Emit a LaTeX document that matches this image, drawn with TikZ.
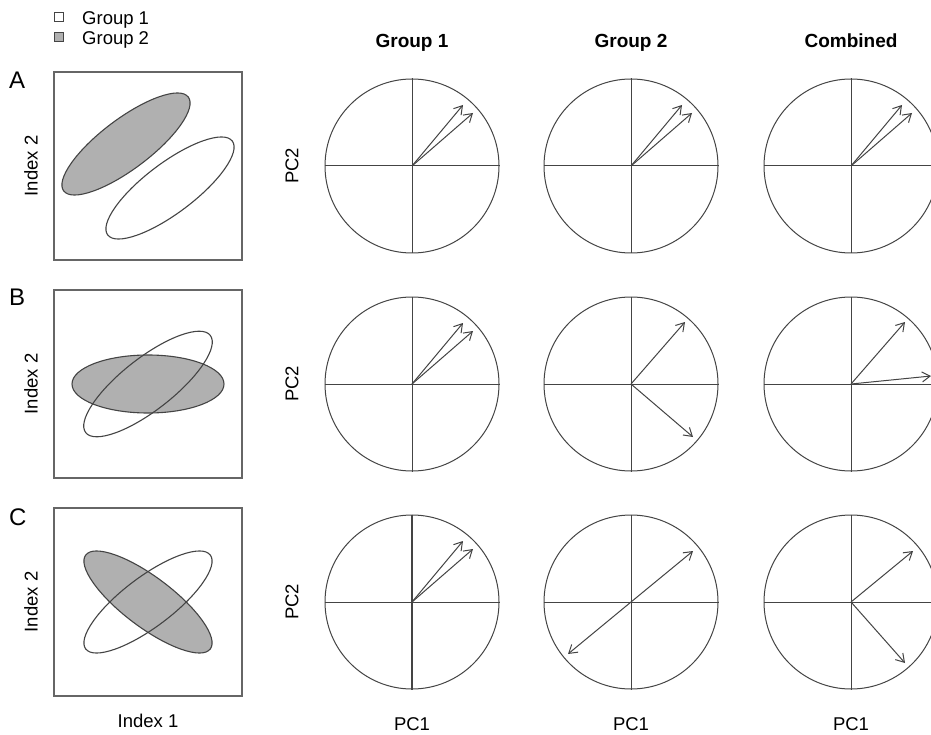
\documentclass[tikz,border=0pt]{standalone}
\usepackage{fontspec}
\setmainfont{Liberation Sans}
\usetikzlibrary{arrows.meta,calc}
\definecolor{lncol}{HTML}{444444}
\definecolor{boxcol}{HTML}{666666}
\definecolor{fillgray}{HTML}{B0B0B0}
\begin{document}
\begin{tikzpicture}[x=1pt,y=-1pt,
  ln/.style={draw=lncol, line width=1pt},
  pcircle/.style={circle, ln, minimum size=174pt, inner sep=0pt},
  arr/.style={draw=lncol, line width=1pt, -{Straight Barb[length=8pt,width=10pt]}},
  panel/.style={draw=boxcol, line width=1.1pt, minimum width=188pt, minimum height=188pt, inner sep=0pt},
  grayell/.style={draw=lncol, line width=1.1pt, fill=fillgray},
  whiteell/.style={draw=lncol, line width=1.1pt},
  lab/.style={font=\fontsize{18.5}{20}\selectfont, inner sep=0pt},
  head/.style={font=\bfseries\fontsize{19}{21}\selectfont, inner sep=0pt, anchor=base},
  letter/.style={font=\fontsize{24}{26}\selectfont, inner sep=0pt, anchor=base west},
  legbox/.style={draw=lncol, line width=1pt, minimum size=9pt, inner sep=0pt}]
\useasboundingbox (0,0) rectangle (931,735);
\clip (0,0) rectangle (931,735);
\fill[white] (0,0) rectangle (931,735);

% legend
\node[legbox, fill=white] (lg1) at (58.5,17.5) {};
\node[legbox, fill=fillgray] (lg2) at (58.5,37.5) {};
\node[lab, anchor=base west] (lt1) at (82,25) {Group 1};
\node[lab, anchor=base west] (lt2) at (82,44.5) {Group 2};

% column headers
\node[head] (h1) at (412,48) {Group 1};
\node[head] (h2) at (631,48) {Group 2};
\node[head] (h3) at (851,48) {Combined};

% row letters
\node[letter] (lA) at (9,89) {A};
\node[letter] (lB) at (9,305) {B};
\node[letter] (lC) at (9,525) {C};

% left panels
\node[panel] (pA) at (148,166) {};
\node[panel] (pB) at (148,384) {};
\node[panel] (pC) at (148,602) {};

% ellipses panel A
\draw[grayell, rotate around={37:(126,144)}] (126,144) ellipse [x radius=78pt, y radius=25pt];
\draw[whiteell, rotate around={37:(170,188)}] (170,188) ellipse [x radius=78pt, y radius=25pt];
% panel B
\draw[grayell] (148,384) ellipse [x radius=76pt, y radius=29pt];
\draw[whiteell, rotate around={38:(148,384)}] (148,384) ellipse [x radius=79pt, y radius=26pt];
% panel C
\draw[grayell, rotate around={-37:(148,602)}] (148,602) ellipse [x radius=78pt, y radius=25pt];
\draw[whiteell, rotate around={37:(148,602)}] (148,602) ellipse [x radius=78pt, y radius=25pt];

% axis labels left
\node[lab, rotate=90] (iA) at (31,166) {Index 2};
\node[lab, rotate=90] (iB) at (31,384) {Index 2};
\node[lab, rotate=90] (iC) at (31,602) {Index 2};
\node[lab, anchor=base] (i1) at (148,727) {Index 1};

% PC2 labels
\node[lab, rotate=90] (pc2A) at (292,166) {PC2};
\node[lab, rotate=90] (pc2B) at (292,384) {PC2};
\node[lab, rotate=90] (pc2C) at (292,602) {PC2};
% PC1 labels
\node[lab, anchor=base] (pc1a) at (412,730) {PC1};
\node[lab, anchor=base] (pc1b) at (631,730) {PC1};
\node[lab, anchor=base] (pc1c) at (851,730) {PC1};

% circles
\foreach \r/\y in {A/166,B/384,C/602}{
  \foreach \c/\x in {1/412,2/631,3/851}{
    \node[pcircle] (k\r\c) at (\x,\y) {};
    \draw[ln] (k\r\c.west) -- (k\r\c.east);
    \draw[ln] (k\r\c.north) -- (k\r\c.south);
  }
}
\draw[draw=lncol, line width=1.8pt] (kC1.north) -- (kC1.south);

% arrow tips
\foreach \k in {A1,A2,A3,B1,C1}{
  \coordinate (t\k a) at ($(k\k.center)+(51,-61)$);
  \coordinate (t\k b) at ($(k\k.center)+(61,-53)$);
  \draw[arr] (k\k.center) -- (t\k a);
  \draw[arr] (k\k.center) -- (t\k b);
}
\coordinate (tB2a) at ($(kB2.center)+(54,-62)$);
\coordinate (tB2b) at ($(kB2.center)+(62,53)$);
\coordinate (tB3a) at ($(kB3.center)+(54,-62)$);
\coordinate (tB3b) at ($(kB3.center)+(80,-8)$);
\coordinate (tC2a) at ($(kC2.center)+(62,-51)$);
\coordinate (tC2b) at ($(kC2.center)+(-63,52)$);
\coordinate (tC3a) at ($(kC3.center)+(62,-51)$);
\coordinate (tC3b) at ($(kC3.center)+(54,61)$);
\foreach \k in {B2,B3,C2,C3}{
  \draw[arr] (k\k.center) -- (t\k a);
  \draw[arr] (k\k.center) -- (t\k b);
}
\end{tikzpicture}
\end{document}
